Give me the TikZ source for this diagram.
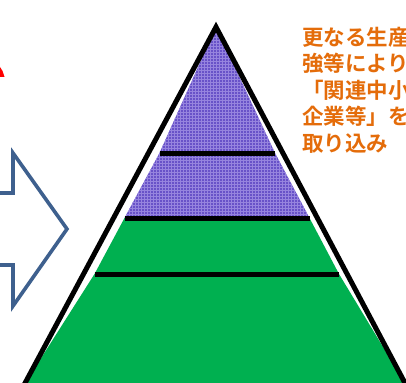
\documentclass[tikz,border=0pt]{standalone}
\usepackage{fontspec}
\newfontfamily\cjk{Noto Sans CJK JP}[BoldFont={Noto Sans CJK JP Bold}]
\usetikzlibrary{patterns}
\definecolor{tierpurple}{RGB}{104,82,200}
\definecolor{tierlight}{RGB}{150,132,222}
\definecolor{tiergreen}{RGB}{0,176,80}
\definecolor{arrowblue}{RGB}{62,96,142}
\definecolor{noteorange}{RGB}{228,108,10}
\tikzset{
  upper/.style={fill=tierpurple, postaction={pattern=grid, pattern color=tierlight}},
  lower/.style={fill=tiergreen},
  edge/.style={draw=black, line width=5pt, line join=miter},
  divider/.style={draw=black, line width=5pt},
  blockarrow/.style={draw=arrowblue, line width=3.6pt, line join=miter, fill=white},
  note/.style={text=noteorange, font=\cjk\bfseries\fontsize{21.5}{26.5}\selectfont, anchor=north west, align=left, inner sep=0pt}
}
\begin{document}
\begin{tikzpicture}[x=1pt,y=-1pt]
\useasboundingbox (0,0) rectangle (406,382);
\begin{scope}
\clip (0,0) rectangle (406,382);
% pyramid key points
\coordinate (apex) at (216,27);
\coordinate (bl) at (24,385);
\coordinate (br) at (406,385);
% tiers
\fill[upper] (apex) -- (159.5,153) -- (275,153) -- cycle;
\fill[upper] (159.5,153) -- (124.5,218) -- (309.5,218) -- (275,153) -- cycle;
\fill[lower] (124.5,218) -- (94.5,274) -- (339,274) -- (309.5,218) -- cycle;
\fill[lower] (94.5,274) -- (bl) -- (br) -- (339,274) -- cycle;
% dividers
\coordinate (d1l) at (159.5,153); \coordinate (d1r) at (275,153);
\coordinate (d2l) at (124.5,218); \coordinate (d2r) at (309.5,218);
\coordinate (d3l) at (94.5,274); \coordinate (d3r) at (339,274);
\draw[divider] (d1l) -- (d1r);
\draw[divider] (d2l) -- (d2r);
\draw[divider] (d3l) -- (d3r);
\draw[edge] (bl) -- (apex) -- (br);
% block arrow
\draw[blockarrow] (-5,193) -- (13,193) -- (13,153) -- (67,229) -- (13,306) -- (13,265) -- (-5,265);
% red fragment
\fill[red] (0,67) -- (2.5,71) -- (4.5,77) -- (0,77) -- cycle;
% note
\node[note] (txt) at (302,27) {更なる生産\\強等により\\「関連中小\\企業等」を\\取り込み};
\end{scope}
\end{tikzpicture}
\end{document}
